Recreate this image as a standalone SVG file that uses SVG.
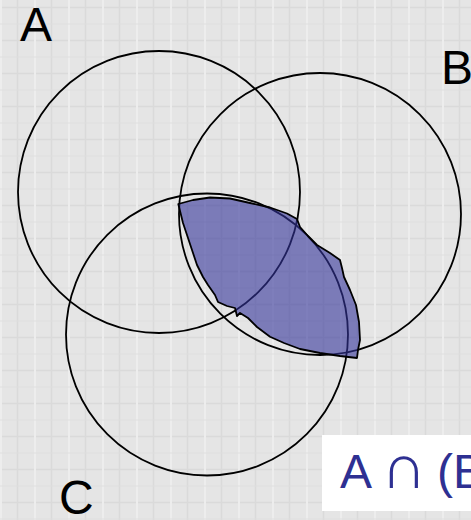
<svg xmlns="http://www.w3.org/2000/svg" width="471" height="520" viewBox="0 0 471 520">
  <style>
    .circle { fill: none; stroke: #000; stroke-width: 1.8; }
    .label { font-family: "Liberation Sans", Arial, sans-serif; font-size: 48px; fill: #000; }
    .formula { font-family: "Liberation Sans", Arial, sans-serif; font-size: 48px; fill: #2e3092; }
    .cap { font-size: 63px; }
    .region { fill: #333399; fill-opacity: 0.6; stroke: #000; stroke-width: 1.8; stroke-linejoin: round; }
  </style>
  <defs>
    <pattern id="grid" width="34" height="33" patternUnits="userSpaceOnUse">
      <rect width="34" height="33" fill="#e5e5e5"/>
      <line x1="17.5" y1="0" x2="17.5" y2="33" stroke="#dadada" stroke-width="1.5"/>
      <line x1="0" y1="7.5" x2="34" y2="7.5" stroke="#dadada" stroke-width="1.5"/>
      <line x1="1" y1="0" x2="1" y2="33" stroke="#ededed" stroke-width="2"/>
      <line x1="0" y1="24" x2="34" y2="24" stroke="#dfdfdf" stroke-width="1"/>
    </pattern>
  </defs>
  <rect id="background" x="0" y="0" width="471" height="520" fill="url(#grid)"/>
  <g id="circles">
    <g id="circle-A"><circle class="circle" cx="159" cy="192" r="141"/></g>
    <g id="circle-B"><circle class="circle" cx="320" cy="214" r="141"/></g>
    <g id="circle-C"><circle class="circle" cx="207" cy="334.5" r="141"/></g>
  </g>
  <g id="shaded-region">
    <path class="region" d="M178.3,204 L193,200 L210,197.5 L230,198.5 L250,203 L270,207.5 L287,213.5 L297,219 L300,227 L308,236 L317,245 L330,253 L340,260 L342,268 L344,277 L350,290 L356,305 L359,322 L360,340 L358,350 L357,358 L340,356 L320,353 L300,349 L284,343 L270,336.7 L257,327 L248,318 L240,313 L237,316 L235,308 L227,306 L218,302 L215,295 L208,285 L203,277 L197,265 L193,253 L188,238 L183,223 Z"/>
  </g>
  <g id="labels">
    <text class="label" x="20" y="41">A</text>
    <text class="label" x="441" y="84">B</text>
    <text class="label" x="59" y="514">C</text>
  </g>
  <g id="formula-box">
    <rect x="322" y="435" width="160" height="76" fill="#ffffff"/>
    <text class="formula" y="488"><tspan x="340">A</tspan> <tspan class="cap" x="381">∩</tspan> <tspan x="437">(B</tspan></text>
  </g>
</svg>
